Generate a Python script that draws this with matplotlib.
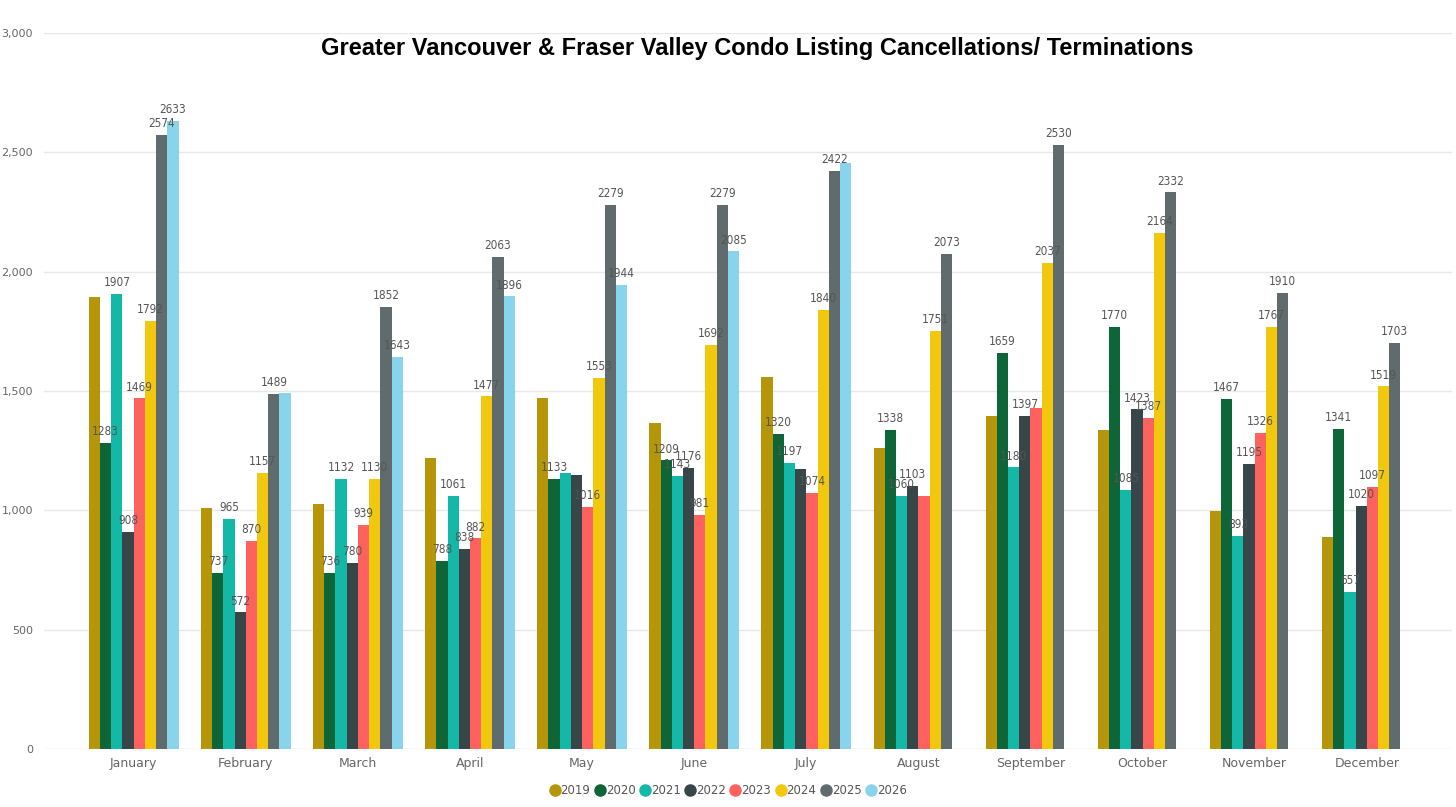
import matplotlib
matplotlib.use("Agg")
import matplotlib.pyplot as plt
import numpy as np
from matplotlib.lines import Line2D

months = ["January", "February", "March", "April", "May", "June", "July",
          "August", "September", "October", "November", "December"]
years = ["2019", "2020", "2021", "2022", "2023", "2024", "2025", "2026"]

v2019 = [1894, 1010, 1025, 1219, 1470, 1366, 1558, 1261, 1395, 1336, 997, 888]
v2020 = [1283, 737, 736, 788, 1133, 1209, 1320, 1338, 1659, 1770, 1467, 1341]
v2021 = [1907, 965, 1132, 1061, 1157, 1143, 1197, 1060, 1180, 1085, 893, 657]
v2022 = [908, 572, 780, 838, 1146, 1176, 1172, 1103, 1397, 1423, 1195, 1020]
v2023 = [1469, 870, 939, 882, 1016, 981, 1074, 1061, 1430, 1387, 1326, 1097]
v2024 = [1792, 1157, 1130, 1477, 1553, 1692, 1840, 1751, 2037, 2164, 1767, 1519]
v2025 = [2574, 1489, 1852, 2063, 2279, 2279, 2422, 2073, 2530, 2332, 1910, 1703]
v2026 = [2633, 1492, 1643, 1896, 1944, 2085, 2455, None, None, None, None, None]

series = [v2019, v2020, v2021, v2022, v2023, v2024, v2025, v2026]

# data labels shown in the reference (1 = shown, 0 = hidden)
show2019 = [0, 0, 0, 0, 0, 0, 0, 0, 0, 0, 0, 0]
show2020 = [1, 1, 1, 1, 1, 1, 1, 1, 1, 1, 1, 1]
show2021 = [1, 1, 1, 1, 0, 1, 1, 1, 1, 1, 1, 1]
show2022 = [1, 1, 1, 1, 0, 1, 0, 1, 1, 1, 1, 1]
show2023 = [1, 1, 1, 1, 1, 1, 1, 0, 0, 1, 1, 1]
show2024 = [1, 1, 1, 1, 1, 1, 1, 1, 1, 1, 1, 1]
show2025 = [1, 1, 1, 1, 1, 1, 1, 1, 1, 1, 1, 1]
show2026 = [1, 0, 1, 1, 1, 1, 0, 0, 0, 0, 0, 0]
shows = [show2019, show2020, show2021, show2022, show2023, show2024, show2025, show2026]

colors = ["#B5960A", "#0E6537", "#13B9A6", "#374649", "#FD625E",
          "#F2C80F", "#5F6B6D", "#8AD4EB"]

fig = plt.figure(figsize=(14.56, 8.07), dpi=100)
ax = fig.add_axes([44 / 1456, 1 - 749 / 807, (1452 - 44) / 1456, (749 - 33) / 807])

x = np.arange(len(months))
n = len(series)
bw = 0.8 / n
for i, (vals, col) in enumerate(zip(series, colors)):
    xs = [xx + (i - (n - 1) / 2) * bw for xx, v in zip(x, vals) if v is not None]
    ys = [v for v in vals if v is not None]
    ax.bar(xs, ys, width=bw, color=col, zorder=3, linewidth=0)

for i, vals in enumerate(series):
    for xx, v, s in zip(x, vals, shows[i]):
        if v is None or not s:
            continue
        ax.annotate(str(v), (xx + (i - (n - 1) / 2) * bw, v), xytext=(0, 3.5),
                    textcoords="offset points", ha="center", va="bottom",
                    fontsize=8.5, color="#555555", fontstretch="condensed",
                    zorder=10)

ax.set_xlim(-0.8, 11.76)
ax.set_ylim(0, 3000)
ax.set_yticks([0, 500, 1000, 1500, 2000, 2500, 3000])
ax.set_yticklabels(["0", "500", "1,000", "1,500", "2,000", "2,500", "3,000"])
ax.set_xticks(x)
ax.set_xticklabels(months)
ax.tick_params(axis="y", length=0, pad=8, labelsize=8, labelcolor="#666666")
ax.tick_params(axis="x", length=0, pad=6, labelsize=9, labelcolor="#666666")
ax.grid(axis="y", color="#e8e8e8", linewidth=1, zorder=0)
ax.set_axisbelow(True)
for sp in ax.spines.values():
    sp.set_visible(False)

fig.text(757 / 1456, 1 - 48 / 807, "Greater Vancouver & Fraser Valley Condo Listing Cancellations/ Terminations",
         ha="center", va="center", fontsize=17, fontweight="bold",
         family="Liberation Sans", color="black")

handles = [Line2D([], [], marker="o", linestyle="none", markersize=8,
                  markerfacecolor=c, markeredgecolor=c) for c in colors]
leg = fig.legend(handles, years, loc="center", bbox_to_anchor=(728 / 1456, 1 - 791 / 807),
                 ncol=len(years), frameon=False, fontsize=8.5, handletextpad=0.05,
                 columnspacing=0.35, handlelength=0.9)
for t in leg.get_texts():
    t.set_color("#555555")

fig.savefig("out.png", dpi=100, facecolor="white")
